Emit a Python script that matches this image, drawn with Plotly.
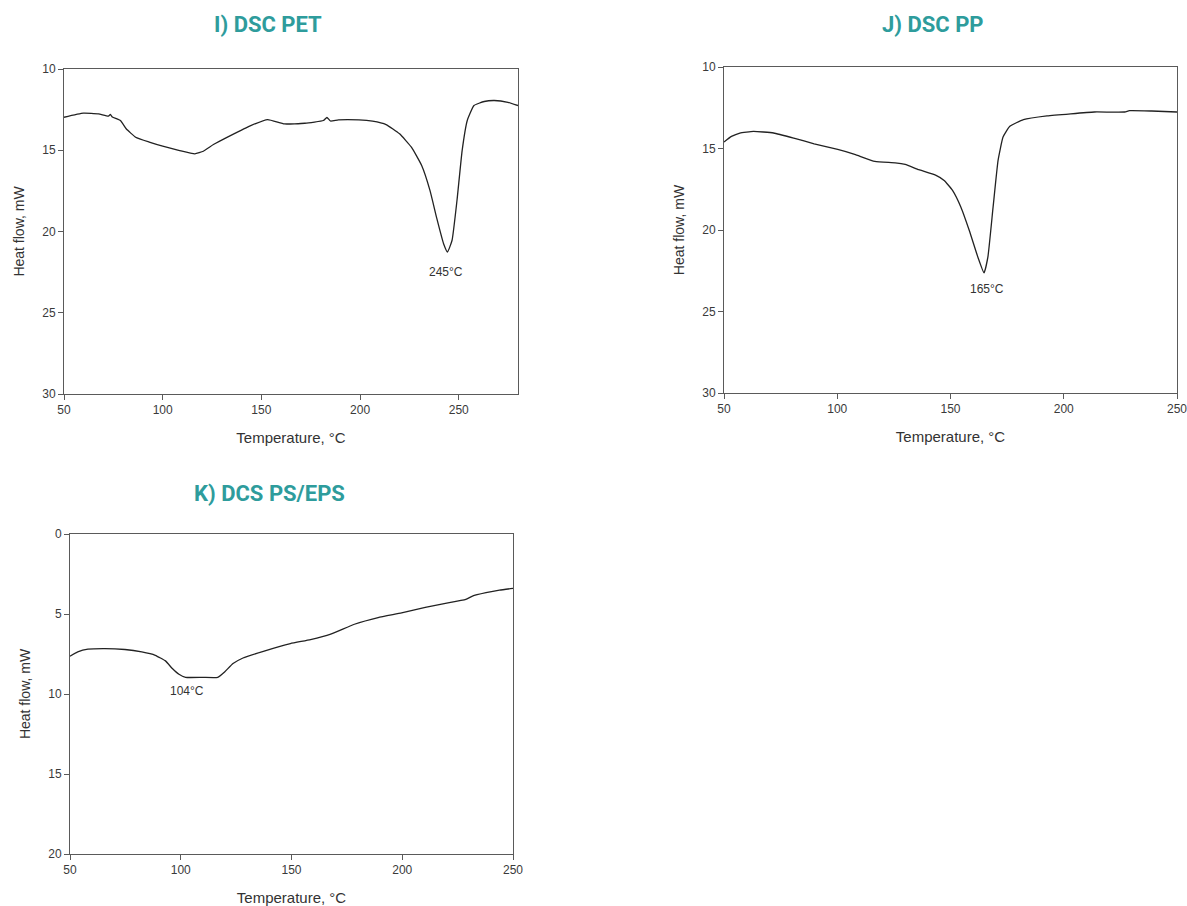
import plotly.graph_objects as go

# ---- Data ----
pet_temp = [50, 59.8, 67.5, 72.5, 73.5, 74.5, 78.6, 81.5, 86.3, 93.2, 100, 108.6, 116.3, 120.6, 125.7,
            134.3, 144.6, 153.2, 161.7, 172, 181.4, 183.2, 185, 189, 199.4, 206.3, 213.2, 220, 226,
            231.2, 235.4, 238.9, 242.3, 244.3, 246.6, 249.1, 251.7, 254.3, 257.7, 262.9, 268, 274.9, 280]
pet_flow = [12.97, 12.72, 12.76, 12.9, 12.8, 12.95, 13.17, 13.68, 14.2, 14.5, 14.75, 15.02, 15.22, 15.06, 14.65,
            14.1, 13.48, 13.11, 13.38, 13.34, 13.17, 12.98, 13.2, 13.13, 13.13, 13.21, 13.42, 13.99, 14.81,
            15.94, 17.47, 19.21, 20.75, 21.26, 20.54, 18.08, 15.02, 13.17, 12.25, 12.0, 11.94, 12.05, 12.25]

pp_temp = [50, 53.3, 57, 63, 71.9, 80.8, 89.8, 100.2, 107.7, 116.6, 125.6, 130, 136, 143.4, 147.2,
           150.9, 154.6, 158.3, 162.1, 164.8, 166.5, 168.8, 171, 173.2, 176.2, 182.2, 192.6, 203.1,
           213.5, 226.9, 229, 238.8, 250]
pp_flow = [14.6, 14.26, 14.05, 13.95, 14.05, 14.36, 14.71, 15.06, 15.36, 15.79, 15.88, 15.98, 16.3, 16.63, 16.96,
           17.57, 18.6, 20.03, 21.67, 22.63, 21.67, 18.6, 15.73, 14.3, 13.64, 13.23, 13.0, 12.87,
           12.76, 12.76, 12.68, 12.7, 12.76]

ps_temp = [50, 53.5, 58.1, 65.7, 74.8, 82.4, 88.5, 93.1, 96.2, 99.2, 102.2, 109.9, 116.7, 119.8, 123.6,
           128.1, 137.3, 149.5, 158.6, 167.7, 178.4, 189.1, 199.7, 210.4, 219.5, 228.7, 231.7, 237.8,
           243.9, 250]
ps_flow = [7.64, 7.37, 7.2, 7.16, 7.22, 7.37, 7.58, 7.93, 8.41, 8.77, 8.96, 8.96, 8.96, 8.62, 8.1,
           7.75, 7.33, 6.85, 6.6, 6.26, 5.64, 5.22, 4.93, 4.59, 4.34, 4.09, 3.88, 3.67,
           3.51, 3.4]

titles = ["I) DSC PET", "J) DSC PP", "K) DCS PS/EPS"]
peak_labels = ["245°C", "165°C", "104°C"]
peak_pos_T = [243.7, 166.2, 102.7]
peak_pos_v = [22.5, 23.6, 9.8]
x_ranges = [[50, 280], [50, 250], [50, 250]]
y_ranges = [[30, 10], [30, 10], [20, 0]]
x_title = "Temperature, °C"
y_title = "Heat flow, mW"

# ---- Layout geometry ----
W, H = 1187, 906
panels = [
    dict(x0=64, x1=518, y0=69, y1=394),
    dict(x0=724, x1=1177, y0=67, y1=393),
    dict(x0=70, x1=513, y0=534, y1=854),
]
title_pos = [(268, 24), (933, 24), (269, 493)]

fig = go.Figure()
series = [(pet_temp, pet_flow), (pp_temp, pp_flow), (ps_temp, ps_flow)]

axis_common = dict(
    showline=True, linecolor="#5a5a5a", linewidth=1, mirror=True,
    ticks="outside", ticklen=5, tickcolor="#5a5a5a",
    showgrid=False, zeroline=False, automargin=False, ticklabeloverflow="allow",
    tickfont=dict(family="Liberation Sans, Arial", size=12, color="#3a3a3a"),
)

for i, (xs, ys) in enumerate(series):
    n = "" if i == 0 else str(i + 1)
    p = panels[i]
    fig.add_trace(go.Scatter(x=xs, y=ys, mode="lines",
                             line=dict(color="#222222", width=1.3, shape="spline", smoothing=0.4),
                             xaxis="x" + n, yaxis="y" + n, showlegend=False))
    fig.layout["xaxis" + n] = dict(
        domain=[p["x0"] / W, p["x1"] / W], anchor="y" + n, range=x_ranges[i], dtick=50,
        title=dict(text=x_title, font=dict(family="Liberation Sans, Arial", size=15, color="#333"), standoff=16),
        **axis_common)
    fig.layout["yaxis" + n] = dict(
        domain=[1 - p["y1"] / H, 1 - p["y0"] / H], anchor="x" + n, range=y_ranges[i], dtick=5,
        title=dict(text=y_title, font=dict(family="Liberation Sans, Arial", size=14, color="#333"), standoff=14),
        **axis_common)
    fig.add_annotation(x=peak_pos_T[i], y=peak_pos_v[i], xref="x" + n, yref="y" + n, text=peak_labels[i],
                       showarrow=False, font=dict(family="Liberation Sans, Arial", size=12, color="#333"))
    tx, ty = title_pos[i]
    fig.add_annotation(x=tx / W, y=1 - ty / H, xref="paper", yref="paper", text="<b>" + titles[i] + "</b>",
                       xanchor="center", yanchor="middle",
                       showarrow=False, font=dict(family="Roboto", size=22, color="#2e9c9c"))

fig.update_layout(width=W, height=H, margin=dict(l=0, r=0, t=0, b=0, autoexpand=False),
                  paper_bgcolor="white", plot_bgcolor="white")
fig.write_html("out.html")
